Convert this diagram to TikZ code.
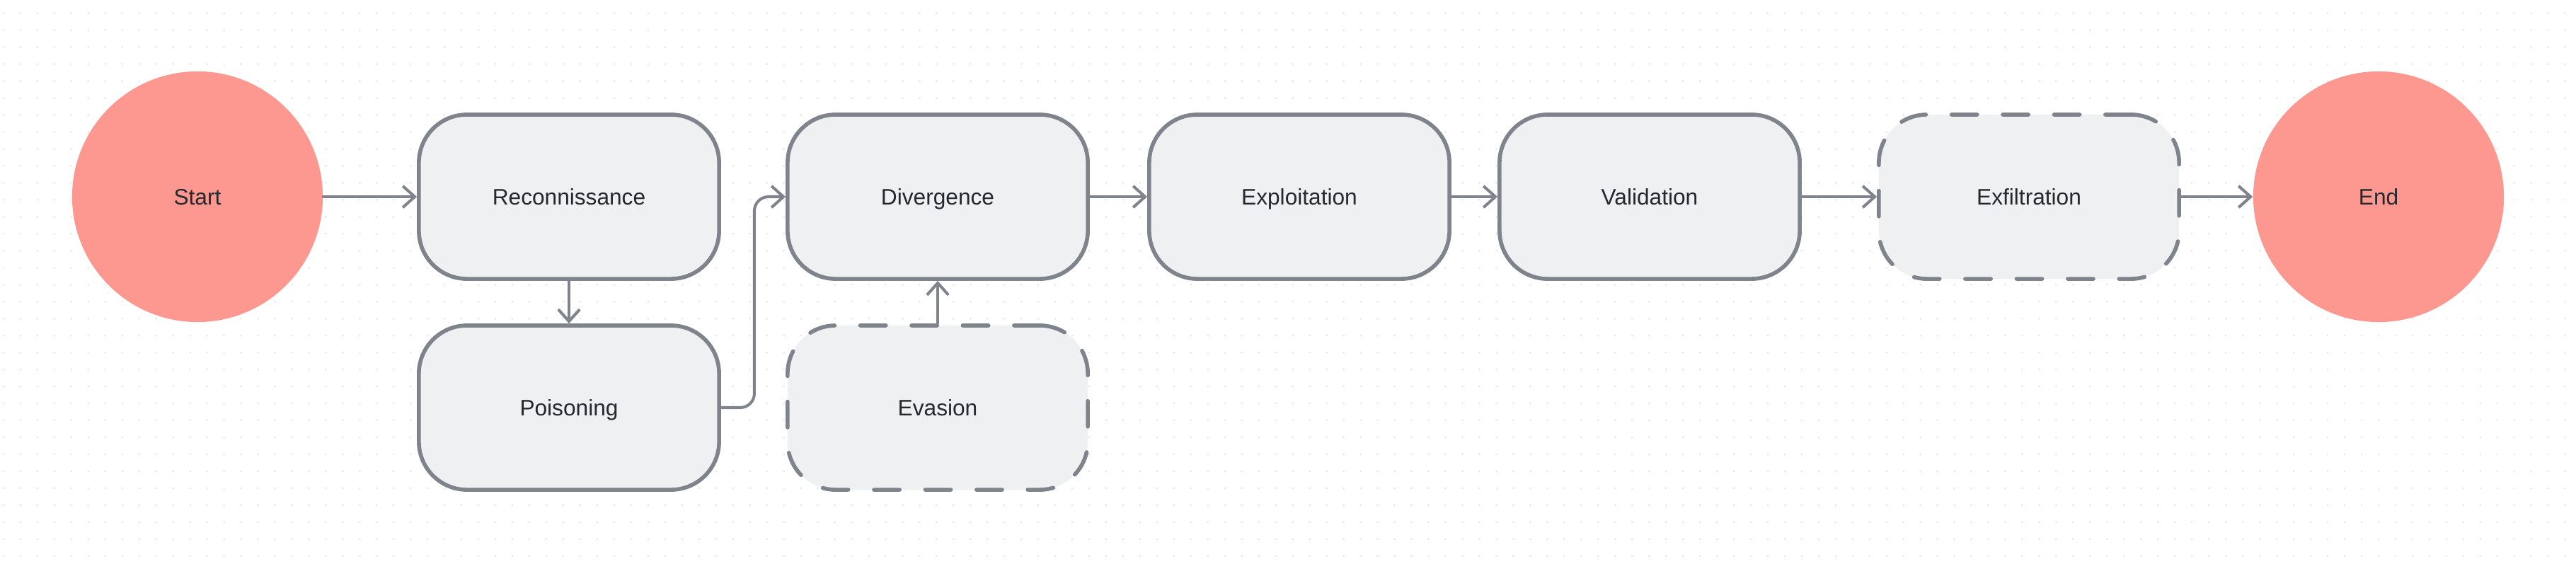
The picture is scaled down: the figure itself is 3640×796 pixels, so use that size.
\documentclass[tikz,border=0pt]{standalone}
\usepackage{fontspec}
\setmainfont{Liberation Sans}
\usetikzlibrary{arrows.meta}
\definecolor{edgegray}{HTML}{7E838C}
\definecolor{boxfill}{HTML}{EFF0F2}
\definecolor{termfill}{HTML}{FC988F}
\definecolor{dotgray}{HTML}{DCDDE3}
\definecolor{txt}{HTML}{24292F}

\begin{document}
\begin{tikzpicture}[x=0.01cm, y=-0.01cm, >={Straight Barb[length=4.8pt,width=8.6pt]},
  box/.style={draw=edgegray, line width=1.6pt, fill=boxfill, rounded corners=0.68cm, minimum width=4.24cm, minimum height=2.32cm, inner sep=0pt, text=txt, text height=6.4pt, text depth=0pt, font=\fontsize{9pt}{11pt}\selectfont},
  optbox/.style={box, dash pattern=on 10.3pt off 10.3pt, line cap=round},
  term/.style={circle, fill=termfill, minimum size=3.54cm, inner sep=0pt, text=txt, text height=6.4pt, text depth=0pt, font=\fontsize{9pt}{11pt}\selectfont},
  flow/.style={draw=edgegray, line width=1.15pt, line cap=round, ->}]
  % Background
  \useasboundingbox (0,0) rectangle (3640,796);
  \fill[white] (0,0) rectangle (3640,796);
  \foreach \j in {0,...,32} {
    \fill[dotgray] \foreach \i in {0,...,151} {(5+23.97*\i, 18.7+23.97*\j) circle (0.35pt)};
  }
  % Nodes
  \node[term](S) at (279,278) {Start};
  \node[box](R) at (804,278) {Reconnissance};
  \node[box](P) at (804,576) {Poisoning};
  \node[box](D) at (1325,278) {Divergence};
  \node[optbox](Ev) at (1325,576) {Evasion};
  \node[box](Ex) at (1836,278) {Exploitation};
  \node[box](V) at (2331,278) {Validation};
  \node[optbox](F) at (2867,278) {Exfiltration};
  \node[term](E) at (3361,278) {End};
  % Edges
  \draw[flow] (S) -- (R);
  \draw[flow] (R) -- (P);
  \draw[flow, rounded corners=0.2cm] (P.east) -- ++(47,0) |- (D.west);
  \draw[flow] (Ev) -- (D);
  \draw[flow] (D) -- (Ex);
  \draw[flow] (Ex) -- (V);
  \draw[flow] (V) -- (F);
  \draw[flow] (F) -- (E);
\end{tikzpicture}
\end{document}
